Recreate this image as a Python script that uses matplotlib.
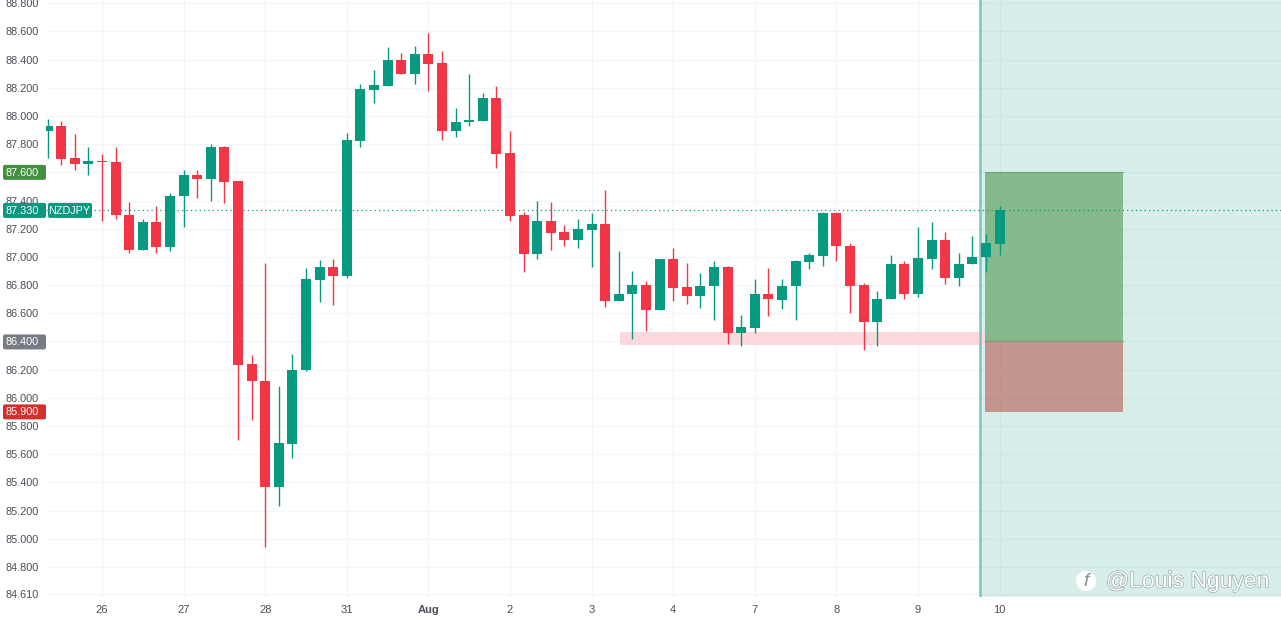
import matplotlib
matplotlib.use("Agg")
import matplotlib.pyplot as plt
import matplotlib.patheffects as pe
import numpy as np
from matplotlib.patches import Circle, FancyBboxPatch, Rectangle

plt.rcParams["font.family"] = ["Liberation Sans", "DejaVu Sans"]

opens = [87.89, 87.93, 87.70, 87.66, 87.68, 87.67, 87.30, 87.05, 87.245, 87.07,
         87.435, 87.58, 87.55, 87.78, 87.54, 86.24, 86.12, 85.367, 85.675, 86.195,
         86.836, 86.93, 86.865, 87.825, 88.187, 88.21, 88.40, 88.30, 88.44, 88.375,
         87.89, 87.96, 87.965, 88.13, 87.735, 87.295, 87.018, 87.252, 87.175, 87.12,
         87.19, 87.233, 86.69, 86.737, 86.80, 86.62, 86.983, 86.784, 86.72, 86.79,
         86.93, 86.46, 86.498, 86.74, 86.697, 86.79, 86.966, 87.006, 87.31, 87.077,
         86.80, 86.538, 86.70, 86.95, 86.737, 86.985, 87.122, 86.852, 86.947, 87.00,
         87.094]
closes = [87.93, 87.695, 87.66, 87.68, 87.67, 87.30, 87.05, 87.245, 87.07, 87.435,
          87.58, 87.55, 87.78, 87.535, 86.235, 86.117, 85.367, 85.677, 86.20, 86.84,
          86.93, 86.865, 87.827, 88.19, 88.218, 88.40, 88.30, 88.44, 88.37, 87.89,
          87.96, 87.97, 88.13, 87.73, 87.293, 87.018, 87.252, 87.172, 87.12, 87.196,
          87.233, 86.69, 86.74, 86.80, 86.62, 86.983, 86.78, 86.72, 86.79, 86.93,
          86.462, 86.50, 86.74, 86.70, 86.79, 86.97, 87.01, 87.31, 87.075, 86.79,
          86.535, 86.70, 86.95, 86.737, 86.99, 87.122, 86.852, 86.95, 87.00, 87.10,
          87.33]
highs = [87.98, 87.967, 87.87, 87.78, 87.73, 87.78, 87.39, 87.27, 87.36, 87.45,
         87.62, 87.62, 87.80, 87.79, 87.54, 86.304, 86.96, 86.084, 86.31, 86.92,
         86.98, 86.985, 87.877, 88.23, 88.326, 88.49, 88.45, 88.50, 88.587, 88.46,
         88.06, 88.296, 88.16, 88.215, 87.89, 87.32, 87.40, 87.387, 87.226, 87.267,
         87.31, 87.475, 87.04, 86.90, 86.826, 86.988, 87.06, 86.96, 86.888, 86.97,
         86.935, 86.587, 86.843, 86.92, 86.843, 86.978, 87.03, 87.316, 87.318, 87.10,
         86.817, 86.76, 87.01, 86.97, 87.21, 87.248, 87.18, 87.025, 87.15, 87.163,
         87.364]
lows = [87.70, 87.652, 87.62, 87.58, 87.255, 87.27, 87.025, 87.05, 87.025, 87.04,
        87.215, 87.42, 87.40, 87.38, 85.70, 85.84, 84.943, 85.232, 85.57, 86.19,
        86.68, 86.66, 86.848, 87.78, 88.09, 88.21, 88.30, 88.227, 88.18, 87.83,
        87.853, 87.93, 87.965, 87.633, 87.255, 86.895, 86.983, 87.05, 87.08, 87.065,
        86.93, 86.642, 86.69, 86.42, 86.476, 86.62, 86.69, 86.666, 86.64, 86.552,
        86.38, 86.37, 86.46, 86.58, 86.63, 86.555, 86.915, 86.934, 86.973, 86.60,
        86.34, 86.37, 86.70, 86.704, 86.718, 86.912, 86.805, 86.793, 86.947, 86.895,
        87.01]

price_ticks = [88.8, 88.6, 88.4, 88.2, 88.0, 87.8, 87.6, 87.4, 87.2, 87.0, 86.8,
               86.6, 86.4, 86.2, 86.0, 85.8, 85.6, 85.4, 85.2, 85.0, 84.8, 84.61]
day_positions = [4, 10, 16, 22, 28, 34, 40, 46, 52, 58, 64, 70]
day_labels = ["26", "27", "28", "31", "Aug", "2", "3", "4", "7", "8", "9", "10"]

last_price = 87.33
target = 87.6
entry = 86.4
stop = 85.9
zone_low = 86.375
zone_high = 86.47

UP = "#089981"
DOWN = "#f23645"
GRID = "#f4f5f8"
TEXT = "#4a4e58"

W, H = 1281, 620
AX_LEFT, AX_BOTTOM = 46, 597
STEP = 13.6
FIRST = 47.6
PX_PER_UNIT = 140.9
TOP_PRICE = 88 + 116 / PX_PER_UNIT


def px_x(px):
    return (px - FIRST) / STEP


def px_y(price):
    return 116 + (88 - price) * PX_PER_UNIT


fig = plt.figure(figsize=(W / 100, H / 100), dpi=100)
ax = fig.add_axes([AX_LEFT / W, (H - AX_BOTTOM) / H, (W - AX_LEFT) / W, AX_BOTTOM / H])
ax.set_xlim(px_x(AX_LEFT), px_x(W))
ax.set_ylim(88 - (AX_BOTTOM - 116) / PX_PER_UNIT, TOP_PRICE)

# the target and entry tags sit right on top of their own tick labels
ax.set_yticks(price_ticks)
ax.set_yticklabels(["" if p in (target, entry) else f"{p:.3f}" for p in price_ticks])
ax.set_xticks(day_positions)
ax.set_xticklabels(day_labels)
ax.get_xticklabels()[4].set_fontweight("bold")
ax.tick_params(axis="y", length=0, pad=5, labelsize=7.8, labelcolor=TEXT)
ax.tick_params(axis="x", length=0, pad=6, labelsize=8, labelcolor=TEXT)
ax.grid(True, color=GRID, linewidth=0.9)
ax.set_axisbelow(True)
for spine in ax.spines.values():
    spine.set_visible(False)

# future zone right of the time marker
ax.axvspan(px_x(980), px_x(W), color=UP, alpha=0.16, linewidth=0, zorder=1)
ax.axvline(px_x(980), color="#7dc5b9", linewidth=1.8, zorder=1.5)

# support zone and long position boxes
ax.add_patch(Rectangle((px_x(620), zone_low), px_x(985) - px_x(620), zone_high - zone_low,
                       facecolor="#fdd8dc", edgecolor="none", zorder=1.2))
ax.add_patch(Rectangle((px_x(985), entry), px_x(1123) - px_x(985), target - entry,
                       facecolor="#43913f", alpha=0.55, edgecolor="none", zorder=2))
ax.add_patch(Rectangle((px_x(985), stop), px_x(1123) - px_x(985), entry - stop,
                       facecolor="#b65b52", alpha=0.6, edgecolor="none", zorder=2))
ax.plot([px_x(985), px_x(1123)], [target, target], color="#6aa873", linewidth=0.8, zorder=2.1)
ax.plot([px_x(985), px_x(1123)], [entry, entry], color="#87947a", linewidth=0.8, zorder=2.1)

ax.axhline(last_price, color=UP, linewidth=0.9, linestyle=(0, (1, 2.5)), zorder=2.2)

x = np.arange(len(opens))
o = np.array(opens)
c = np.array(closes)
colors = [UP if cl >= op else DOWN for op, cl in zip(o, c)]
ax.vlines(x, lows, highs, colors=colors, linewidth=1, zorder=3)
ax.bar(x, np.maximum(np.abs(c - o), 0.012), bottom=np.minimum(o, c), width=10 / STEP,
       color=colors, linewidth=0, zorder=3.1)

# price tags and watermark live on a full figure overlay in pixel units
over = fig.add_axes([0, 0, 1, 1], facecolor="none")
over.set_xlim(0, W)
over.set_ylim(H, 0)
over.axis("off")


def tag(x0, x1, yc, label, color, x_text):
    over.add_patch(FancyBboxPatch((x0 + 1, yc - 6.5), x1 - x0 - 2, 13,
                                  boxstyle="round,pad=1,rounding_size=2",
                                  facecolor=color, edgecolor="none"))
    over.text(x_text, yc + 0.3, label, color="white", fontsize=7.8,
              fontweight="medium", ha="center", va="center")


tag(3, 46, px_y(target), f"{target:.3f}", "#43913f", 22.5)
tag(3, 46, px_y(last_price), f"{last_price:.3f}", UP, 22.5)
tag(48, 92, px_y(last_price), "NZDJPY", UP, 69.5)
tag(3, 46, px_y(entry) + 0.5, f"{entry:.3f}", "#787b86", 22.5)
tag(3, 46, px_y(stop), f"{stop:.3f}", "#d32f2f", 22.5)

outline = [pe.withStroke(linewidth=0.8, foreground="#8f9a98")]
over.text(1106, 581, "@Louis Nguyen", color="white", fontsize=16.5, ha="left", va="center",
          path_effects=outline)
over.add_patch(Circle((1086, 581), 10, facecolor="white", edgecolor="none"))
over.text(1086, 582, "f", color="#8a9492", fontsize=14, style="italic", ha="center", va="center")

fig.savefig("out.png", dpi=100)
